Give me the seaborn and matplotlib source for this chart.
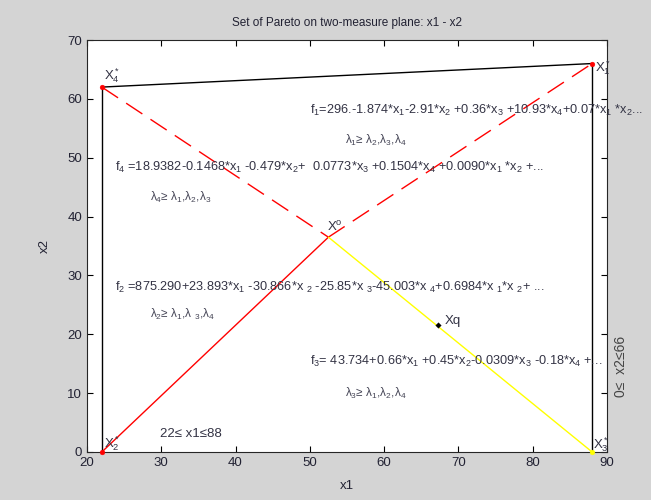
import numpy as np
import pandas as pd
import seaborn as sns
import matplotlib.pyplot as plt

# Pareto corner points and the compromise points
pt_names = ["X4", "X1", "X2", "X3", "X0", "Xq"]
pt_x = [22, 88, 22, 88, 52.5, 67.2]
pt_y = [62, 66, 0, 0, 36.5, 21.5]

# segments: (start, end, colour, dashed)
seg_from = ["X4", "X4", "X1", "X4", "X0", "X2", "X0"]
seg_to = ["X1", "X2", "X3", "X0", "X1", "X0", "X3"]
seg_color = ["black", "black", "black", "red", "red", "red", "yellow"]
seg_dash = [False, False, False, True, True, False, False]

formulas = [
    r"f$_1$=296.-1.874*x$_1$-2.91*x$_2$ +0.36*x$_3$ +10.93*x$_4$+0.07*x$_1$ *x$_2$...",
    r"f$_4$ =18.9382-0.1468*x$_1$ -0.479*x$_2$+  0.0773*x$_3$ +0.1504*x$_4$ +0.0090*x$_1$ *x$_2$ +...",
    r"f$_2$ =875.290+23.893*x$_1$ -30.866*x $_2$ -25.85*x $_3$-45.003*x $_4$+0.6984*x $_1$*x $_2$+ ...",
    r"f$_3$= 43.734+0.66*x$_1$ +0.45*x$_2$-0.0309*x$_3$ -0.18*x$_4$ +...",
]
formula_x = [50, 23.8, 23.8, 50]
formula_y = [58.1, 48.4, 28.0, 15.3]

lambdas = [
    r"λ$_1$≥ λ$_2$,λ$_3$,λ$_4$",
    r"λ$_4$≥ λ$_1$,λ$_2$,λ$_3$",
    r"λ$_2$≥ λ$_1$,λ $_3$,λ$_4$",
    r"λ$_3$≥ λ$_1$,λ$_2$,λ$_4$",
]
lambda_x = [54.7, 28.5, 28.5, 54.7]
lambda_y = [53.0, 43.3, 23.3, 10.0]

sns.set_style("ticks")
plt.rcParams['font.family'] = ['Liberation Sans', 'DejaVu Sans']
plt.rcParams['mathtext.default'] = 'regular'

pts = pd.DataFrame({"name": pt_names, "x": pt_x, "y": pt_y}).set_index("name")

fig = plt.figure(figsize=(6.51, 5.0), dpi=100, facecolor='#d4d4d4')
ax = fig.add_axes([0.1336, 0.096, 0.7988, 0.824])
ax.set_facecolor('white')

for a, b, c, d in zip(seg_from, seg_to, seg_color, seg_dash):
    seg = pts.loc[[a, b]]
    sns.lineplot(data=seg, x="x", y="y", color=c, lw=1, ax=ax, sort=False,
                 estimator=None, linestyle=(0, (14, 7)) if d else '-')

corner = pts.loc[["X4", "X1", "X2"]]
sns.scatterplot(data=corner, x="x", y="y", color="red", s=12, ax=ax,
                edgecolor="red", zorder=5, clip_on=False)
sns.scatterplot(data=pts.loc[["X3"]], x="x", y="y", color="yellow", s=12,
                ax=ax, edgecolor="yellow", zorder=5, clip_on=False)
sns.scatterplot(data=pts.loc[["Xq"]], x="x", y="y", color="black", s=8,
                marker="D", ax=ax, edgecolor="black", zorder=5)

tc = '#333344'
ax.text(22.3, 63.3, r"X$_4^*$", fontsize=9.5, color=tc)
ax.text(88.4, 64.6, r"X$_1^*$", fontsize=9.5, color=tc)
ax.text(22.3, 0.8, r"X$_2^*$", fontsize=9.5, color=tc)
ax.text(88.1, 0.6, r"X$_3^*$", fontsize=9.5, color=tc)
ax.text(52.3, 37.5, r"X$^o$", fontsize=9.5, color=tc)
ax.text(68.2, 21.8, "Xq", fontsize=9.5, color=tc)
ax.text(29.8, 2.5, "22≤ x1≤88", fontsize=9.5, color=tc)

for s, x, y in zip(formulas, formula_x, formula_y):
    ax.text(x, y, s, fontsize=9.2, color=tc, va='center', clip_on=False)
for s, x, y in zip(lambdas, lambda_x, lambda_y):
    ax.text(x, y, s, fontsize=8.5, color='#444455', va='center')

ax.text(90.9, 14.5, "0≤  x2≤66", rotation=90, fontsize=10, color='#444444',
        va='center')

ax.set_xlim(20, 90)
ax.set_ylim(0, 70)
ax.set_xticks(np.arange(20, 91, 10))
ax.set_yticks(np.arange(0, 71, 10))
ax.tick_params(direction='in', top=True, right=True, labelsize=9.5,
               colors='black', labelcolor='#222233', length=4)
for sp in ax.spines.values():
    sp.set_visible(True)
    sp.set_linewidth(0.8)
ax.set_xlabel("x1", fontsize=9.5, color='#222233', labelpad=8)
ax.set_ylabel("x2", fontsize=9.5, color='#222233', labelpad=12)
ax.set_title("Set of Pareto on two-measure plane: x1 - x2", fontsize=8.5,
             color='#222233', pad=10)

fig.savefig("out.png", dpi=100, facecolor=fig.get_facecolor())
